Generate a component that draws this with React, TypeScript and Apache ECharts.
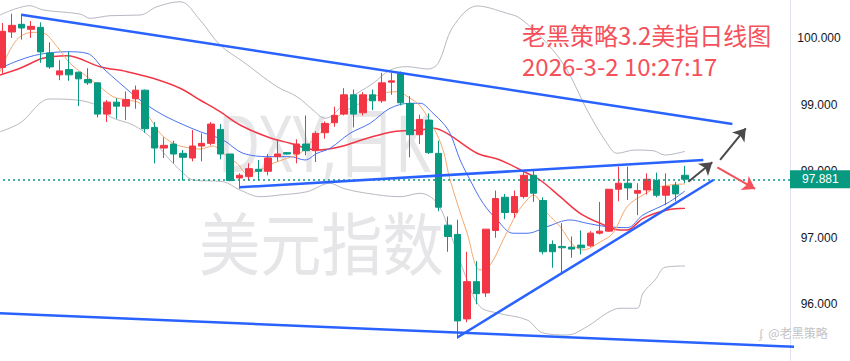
import React, { useEffect, useRef } from "react";
import * as echarts from "echarts";

// [open, close, low, high] for each daily candle
const candles: [number, number, number, number][] = [
  [99.56, 100.105, 99.47, 100.23],
  [100.095, 100.195, 100.005, 100.37],
  [100.21, 100.155, 99.98, 100.37],
  [100.135, 100.18, 100.005, 100.26],
  [100.165, 99.795, 99.63, 100.24],
  [99.78, 99.57, 99.54, 99.94],
  [99.45, 99.51, 99.37, 99.67],
  [99.53, 99.45, 99.36, 99.8],
  [99.49, 99.39, 98.98, 99.5],
  [99.38, 99.33, 99.3, 99.55],
  [99.33, 98.86, 98.81, 99.34],
  [98.86, 99.04, 98.74, 99.07],
  [99.04, 98.98, 98.79, 99.1],
  [98.98, 99.08, 98.77, 99.2],
  [99.09, 99.22, 98.94, 99.29],
  [99.22, 98.64, 98.58, 99.23],
  [98.66, 98.35, 98.12, 98.74],
  [98.35, 98.39, 98.2, 98.51],
  [98.41, 98.26, 98.12, 98.46],
  [98.27, 98.21, 97.86, 98.32],
  [98.2, 98.38, 98.15, 98.62],
  [98.38, 98.42, 98.15, 98.57],
  [98.42, 98.71, 98.39, 98.74],
  [98.63, 98.26, 98.18, 98.71],
  [98.26, 97.86, 97.85, 98.26],
  [97.9, 97.94, 97.74, 97.97],
  [97.92, 98.04, 97.86, 98.12],
  [98.03, 98.0, 97.86, 98.17],
  [98.0, 98.2, 97.94, 98.26],
  [98.22, 98.26, 98.15, 98.48],
  [98.28, 98.26, 98.25, 98.29],
  [98.26, 98.41, 98.12, 98.48],
  [98.41, 98.31, 98.24, 98.84],
  [98.31, 98.57, 98.14, 98.6],
  [98.58, 98.72, 98.49, 98.75],
  [98.73, 98.84, 98.67, 98.97],
  [98.86, 99.15, 98.84, 99.25],
  [99.15, 98.86, 98.66, 99.23],
  [98.88, 99.15, 98.84, 99.19],
  [99.15, 99.06, 98.92, 99.23],
  [99.06, 99.33, 99.03, 99.48],
  [99.34, 99.36, 99.15, 99.48],
  [99.47, 99.03, 98.99, 99.5],
  [99.02, 98.55, 98.21, 99.13],
  [98.55, 98.78, 98.41, 98.85],
  [98.77, 98.28, 98.26, 98.87],
  [98.27, 97.46, 97.4, 98.46],
  [97.19, 97.02, 96.79, 97.32],
  [97.05, 95.75, 95.48, 97.27],
  [95.78, 96.34, 95.73, 96.79],
  [96.34, 96.16, 96.0, 96.65],
  [96.17, 97.13, 96.11, 97.13],
  [97.11, 97.59, 97.0, 97.71],
  [97.61, 97.38, 97.28, 97.66],
  [97.38, 97.62, 97.3, 97.71],
  [97.62, 97.94, 97.59, 97.99],
  [97.94, 97.67, 97.54, 98.02],
  [97.56, 96.79, 96.75, 97.61],
  [96.9, 96.79, 96.55, 96.96],
  [96.87, 96.85, 96.46, 97.22],
  [96.86, 96.83, 96.7, 97.02],
  [96.89, 96.85, 96.75, 97.11],
  [96.88, 97.07, 96.86, 97.1],
  [97.07, 97.1, 97.05, 97.54],
  [97.1, 97.73, 97.09, 97.73],
  [97.73, 97.82, 97.55, 98.07],
  [97.82, 97.75, 97.57, 98.07],
  [97.67, 97.71, 97.34, 97.82],
  [97.72, 97.88, 97.65, 97.97],
  [97.86, 97.64, 97.61, 97.98],
  [97.64, 97.77, 97.49, 97.97],
  [97.79, 97.66, 97.55, 97.84],
  [97.94, 97.881, 97.82, 98.08],
];

const slotCount = 84; // trading-day slots on the axis (incl. empty space on the right)
const categories = Array.from({ length: slotCount }, (_, i) => `K${i + 1}`);
const lastPrice = 97.881;
const priceTicks = [96, 97, 98, 99, 100];

// indicator lines: [slot index, price]
const ma5Points: [number, number][] = [
  [-0.29, 99.498], [0.77, 99.824], [1.82, 100.024], [3.2, 100.09], [4.26, 100.08], [5.73, 99.874],
  [7.1, 99.624], [8.9, 99.423], [10.27, 99.272], [11.64, 99.122], [13.12, 99.072], [14.49, 99.023],
  [15.54, 98.797], [16.6, 98.571], [17.97, 98.421], [19.03, 98.37], [20.82, 98.335], [22.19, 98.38],
  [23.25, 98.271], [24.72, 98.12], [25.78, 97.97], [27.15, 98.02], [28.52, 98.12], [30, 98.195],
  [31.37, 98.271], [32.74, 98.471], [34.22, 98.671], [35.59, 98.847], [36.97, 98.971], [38.45, 99.072],
  [40.14, 99.173], [41.61, 99.197], [42.98, 99.098], [44.04, 98.982], [45.41, 98.671], [46.47, 98.32],
  [47.21, 97.869], [49, 97.072], [50.37, 96.516], [51.43, 96.591], [52.8, 96.967], [54.28, 97.373],
  [55.33, 97.568], [55.97, 97.644], [57.44, 97.373], [58.82, 97.167], [60.19, 96.892], [61.24, 96.817],
  [63.04, 96.937], [64.41, 97.072], [65.89, 97.468], [67.57, 97.644], [69.37, 97.768], [72, 97.81],
];
const ma10Points: [number, number][] = [
  [-0.29, 99.549], [1.82, 99.674], [3.91, 99.759], [6.76, 99.798], [8.9, 99.774], [10.59, 99.549],
  [12.38, 99.323], [14.49, 99.072], [16.6, 98.872], [18.71, 98.722], [20.82, 98.596], [23.25, 98.471],
  [25.36, 98.271], [28.52, 98.22], [30.32, 98.22], [31.9, 98.17], [33.17, 98.271], [34.54, 98.346],
  [36.65, 98.571], [38.76, 98.722], [40.87, 98.947], [42.98, 99.023], [44.04, 99.023], [45.41, 98.872],
  [46.47, 98.722], [47.21, 98.571], [48.27, 98.17], [49.32, 97.869], [50.69, 97.519], [52.17, 97.268],
  [53.86, 97.068], [55.33, 97.068], [57.44, 97.167], [59.87, 97.268], [61.66, 97.218], [63.77, 97.167],
  [65.89, 97.152], [67.57, 97.343], [70.1, 97.519], [72, 97.704],
];
const ma20Points: [number, number][] = [
  [-0.29, 99.448], [1.82, 99.549], [4.26, 99.699], [6.76, 99.738], [10.27, 99.573], [13.12, 99.498],
  [15.86, 99.398], [18.71, 99.248], [20.82, 99.072], [22.93, 98.896], [25.04, 98.696], [27.89, 98.52],
  [30.32, 98.421], [33.17, 98.32], [35.59, 98.37], [38.45, 98.496], [41.19, 98.596], [44.04, 98.621],
  [45.41, 98.647], [46.89, 98.571], [50.06, 98.271], [52.48, 98.17], [55.33, 97.97], [56.7, 97.869],
  [58.82, 97.618], [60.93, 97.368], [63.04, 97.218], [65.14, 97.117], [65.89, 97.117], [67.57, 97.293],
  [70.1, 97.418], [72, 97.444],
];
const bollUpperPoints: [number, number][] = [
  [-0.29, 100.35], [2.88, 100.49], [4.25, 100.426], [8.16, 100.365], [9.21, 100.301], [11.32, 100.34],
  [14.49, 100.35], [16.28, 100.475], [18.71, 100.55], [20.82, 100.275], [22.93, 99.899], [25.36, 99.648],
  [28.95, 99.272], [31.06, 99.122], [32.74, 98.922], [34.01, 98.797], [34.86, 98.847], [36.34, 99.072],
  [39.08, 99.323], [40.88, 99.523], [42.67, 99.573], [44.89, 99.538], [45.94, 99.624], [47.52, 100.174],
  [50.06, 100.486], [53.22, 100.376], [54.59, 100.301], [57.44, 99.925], [59.55, 99.523], [61.66, 98.922],
  [63.77, 98.421], [64.83, 98.271], [66.73, 98.32], [68.63, 98.31], [69.89, 98.245], [72, 98.3],
];
const bollLowerPoints: [number, number][] = [
  [-0.29, 98.595], [1.82, 98.726], [4.98, 99.087], [7.84, 99.072], [10.27, 98.971], [11.32, 98.821],
  [13.75, 98.696], [15.54, 98.52], [17.33, 98.22], [19.03, 97.974], [20.08, 97.869], [23.25, 97.844],
  [25.04, 97.719], [27.15, 97.618], [29.26, 97.644], [32.11, 97.693], [34.54, 97.82], [35.91, 97.744],
  [38.45, 97.669], [41.93, 97.618], [44.04, 97.669], [45.83, 97.523], [47.21, 97.072], [49, 96.365],
  [50.37, 95.964], [52.17, 95.869], [55.33, 95.764], [57.02, 95.568], [59.55, 95.538], [61.66, 95.663],
  [63.77, 95.869], [65.14, 95.94], [66.94, 95.94], [67.57, 96.17], [68.84, 96.365], [69.89, 96.556],
  [72, 96.576],
];

// hand-drawn trend lines: [[slot, price], [slot, price]]
const trendLines: [number, number][][] = [
  [[1.96, 100.355], [77.0, 98.711]],
  [[24.97, 97.759], [73.93, 98.17]],
  [[-0.5, 95.866], [83.5, 95.36]],
  [[48.01, 95.504], [74.99, 97.869]],
];
// arrows: [[from], [to]], color
const arrows: { from: [number, number]; to: [number, number]; color: string }[] = [
  { from: [72.35, 97.844], to: [74.88, 98.135], color: "#4a4a4a" },
  { from: [75.7, 98.17], to: [78.41, 98.647], color: "#4a4a4a" },
  { from: [75.41, 98.06], to: [79.39, 97.734], color: "#f4515b" },
];

const UP = "#f23645";
const DOWN = "#089981";

export default function App() {
  const ref = useRef<HTMLDivElement>(null);
  useEffect(() => {
    document.body.style.margin = "0";
    if (!ref.current) return;
    const chart = echarts.init(ref.current, undefined, { renderer: "svg" });

    const lineSeries = (data: [number, number][], color: string, width: number) => ({
      type: "line",
      xAxisIndex: 1,
      data,
      smooth: 0.35,
      symbol: "none",
      silent: true,
      lineStyle: { color, width },
      z: 3,
    });

    const option: any = {
      animation: false,
      backgroundColor: "#ffffff",
      grid: { left: -2, right: 56, top: 0, bottom: 0, containLabel: false, outerBoundsMode: "none" },
      xAxis: [
        { type: "category", data: categories, boundaryGap: true, show: false },
        { type: "value", min: -0.5, max: slotCount - 0.5, show: false },
      ],
      yAxis: {
        type: "value",
        position: "right",
        offset: -4,
        min: 95.147,
        max: 100.576,
        splitLine: { show: false },
        axisLine: { show: true, onZero: false, lineStyle: { color: "#e0e3eb", width: 1 } },
        axisTick: { show: false },
        axisLabel: {
          customValues: priceTicks,
          formatter: (v: number) => v.toFixed(3),
          color: "#131722",
          fontSize: 12,
          fontFamily: "Liberation Sans",
          align: "center",
          margin: 29,
        },
      },
      graphic: [
        {
          type: "text",
          x: 218,
          y: 142,
          scaleX: 0.74,
          z: 0,
          silent: true,
          style: {
            text: "DXY,日K",
            fill: "#e6e6e9",
            font: '78px "Noto Sans", "Noto Sans CJK SC"',
            textVerticalAlign: "middle",
          },
        },
        {
          type: "text",
          x: 199,
          y: 241,
          scaleX: 0.9,
          z: 0,
          silent: true,
          style: {
            text: "美元指数",
            fill: "#e6e6e9",
            font: '68px "Noto Sans CJK SC"',
            textVerticalAlign: "middle",
          },
        },
        {
          type: "text",
          x: 522,
          y: 34,
          z: 100,
          silent: true,
          style: {
            text: "老黑策略3.2美指日线图",
            fill: "#f4515b",
            font: '24px "Noto Sans CJK SC"',
            lineHeight: 28,
            textVerticalAlign: "middle",
          },
        },
        {
          type: "text",
          x: 522,
          y: 65,
          z: 100,
          silent: true,
          style: {
            text: "2026-3-2 10:27:17",
            fill: "#f4515b",
            font: '24px "Noto Sans CJK SC"',
            lineHeight: 28,
            textVerticalAlign: "middle",
          },
        },
        {
          type: "text",
          x: 759,
          y: 332,
          z: 100,
          silent: true,
          style: {
            text: "ʄ  @老黑策略",
            fill: "#c2c2c2",
            font: '12px "Noto Sans CJK SC"',
            textVerticalAlign: "middle",
          },
        },
      ],
      series: [
        {
          type: "candlestick",
          xAxisIndex: 0,
          data: candles,
          barWidth: 7,
          z: 4,
          itemStyle: {
            color: UP,
            color0: DOWN,
            borderColor: UP,
            borderColor0: DOWN,
            borderWidth: 1,
          },
          markLine: {
            silent: true,
            symbol: ["none", "none"],
            animation: false,
            lineStyle: { color: DOWN, type: [2, 3], width: 1.5 },
            label: {
              show: true,
              position: "end",
              distance: -4,
              formatter: lastPrice.toFixed(3),
              color: "#ffffff",
              backgroundColor: DOWN,
              padding: [3, 12, 3, 12],
              fontSize: 12,
              fontFamily: "Liberation Sans",
            },
            data: [{ yAxis: lastPrice }],
          },
        },
        lineSeries(bollUpperPoints, "#b8b9c2", 1),
        lineSeries(bollLowerPoints, "#b8b9c2", 1),
        lineSeries(ma20Points, "#f23645", 1.5),
        lineSeries(ma10Points, "#4a72f0", 1),
        lineSeries(ma5Points, "#f5a86e", 1),
        ...trendLines.map((seg) => ({
          type: "line",
          xAxisIndex: 1,
          data: seg,
          symbol: "none",
          silent: true,
          lineStyle: { color: "#2962ff", width: 2.5 },
          z: 5,
        })),
        ...arrows.map((a) => ({
          type: "line",
          xAxisIndex: 1,
          data: [],
          silent: true,
          markLine: {
            silent: true,
            animation: false,
            symbol: ["none", "arrow"],
            symbolSize: 12,
            lineStyle: { color: a.color, width: 2, type: "solid" },
            label: { show: false },
            data: [[{ coord: a.from }, { coord: a.to }]],
          },
        })),
      ],
    };
    chart.setOption(option);
    return () => chart.dispose();
  }, []);
  return <div ref={ref} style={{ width: 850, height: 361 }} />;
}
